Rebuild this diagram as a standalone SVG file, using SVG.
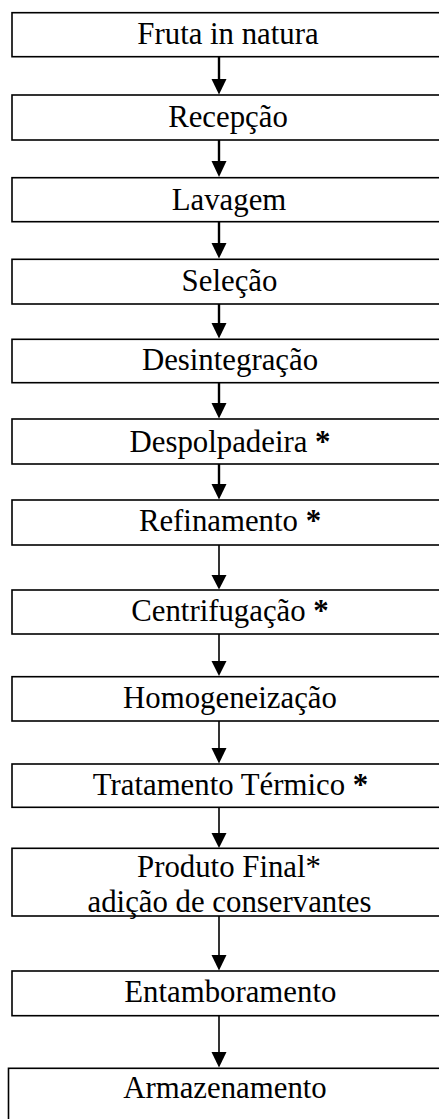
<svg xmlns="http://www.w3.org/2000/svg" width="439" height="1119" viewBox="0 0 439 1119">
<style>
.box{fill:#fff;stroke:#000;stroke-width:1.6}
.t{font-family:"Liberation Serif","Times New Roman",serif;font-size:30.8px;fill:#000;text-anchor:middle}
.b{font-weight:bold}
.c1{stroke:#000;stroke-width:2.4;fill:none}
.c2{stroke:#000;stroke-width:1.6;fill:none}
.h{fill:#000}
</style>
<rect width="439" height="1119" fill="#fff"/>
<g id="connectors">
<line class="c1" x1="219" y1="57" x2="219" y2="80"/><polygon class="h" points="211.5,79 226.5,79 219,94.5"/>
<line class="c1" x1="219" y1="140" x2="219" y2="162"/><polygon class="h" points="211.5,161 226.5,161 219,177"/>
<line class="c1" x1="219" y1="222" x2="219" y2="244"/><polygon class="h" points="211.5,243 226.5,243 219,258.5"/>
<line class="c1" x1="219" y1="304" x2="219" y2="324"/><polygon class="h" points="211.5,323 226.5,323 219,338.5"/>
<line class="c1" x1="219" y1="383" x2="219" y2="404"/><polygon class="h" points="211.5,403 226.5,403 219,418.5"/>
<line class="c1" x1="219" y1="464" x2="219" y2="485"/><polygon class="h" points="211.5,484 226.5,484 219,499.5"/>
<line class="c2" x1="219" y1="545" x2="219" y2="576"/><polygon class="h" points="211.5,575 226.5,575 219,589.5"/>
<line class="c2" x1="219" y1="634" x2="219" y2="662"/><polygon class="h" points="211.5,661 226.5,661 219,676"/>
<line class="c2" x1="219" y1="721" x2="219" y2="749"/><polygon class="h" points="211.5,748 226.5,748 219,763.5"/>
<line class="c2" x1="219" y1="807" x2="219" y2="834"/><polygon class="h" points="211.5,833 226.5,833 219,848"/>
<line class="c2" x1="219" y1="916" x2="219" y2="956"/><polygon class="h" points="211.5,955 226.5,955 219,970.5"/>
<line class="c2" x1="219" y1="1016" x2="219" y2="1053"/><polygon class="h" points="211.5,1052 226.5,1052 219,1067.5"/>
</g>
<g id="n1"><rect class="box" x="12" y="12.7" width="432" height="44"/><text class="t" x="228" y="44.4">Fruta in natura</text></g>
<g id="n2"><rect class="box" x="12" y="95" width="432" height="45"/><text class="t" x="228" y="126.7">Recepção</text></g>
<g id="n3"><rect class="box" x="12" y="177.7" width="432" height="44"/><text class="t" x="229" y="209.5">Lavagem</text></g>
<g id="n4"><rect class="box" x="12" y="259.3" width="432" height="44.7"/><text class="t" x="229.5" y="290.5">Seleção</text></g>
<g id="n5"><rect class="box" x="12" y="339.3" width="432" height="43.4"/><text class="t" x="230" y="369.5">Desintegração</text></g>
<g id="n6"><rect class="box" x="12" y="419" width="432" height="45"/><text class="t" x="230" y="451.5">Despolpadeira <tspan class="b">*</tspan></text></g>
<g id="n7"><rect class="box" x="12" y="500" width="432" height="45"/><text class="t" x="230" y="530.5">Refinamento <tspan class="b">*</tspan></text></g>
<g id="n8"><rect class="box" x="12" y="590" width="432" height="44"/><text class="t" x="230" y="620.5">Centrifugação <tspan class="b">*</tspan></text></g>
<g id="n9"><rect class="box" x="12" y="676.7" width="432" height="44.3"/><text class="t" x="230" y="708">Homogeneização</text></g>
<g id="n10"><rect class="box" x="12" y="764" width="432" height="43.3"/><text class="t" x="230.5" y="795">Tratamento Térmico <tspan class="b">*</tspan></text></g>
<g id="n11"><rect class="box" x="12" y="848.3" width="432" height="67.7"/><text class="t" x="229" y="876.7">Produto Final*</text><text class="t" x="229.5" y="911.5">adição de conservantes</text></g>
<g id="n12"><rect class="box" x="12" y="971" width="432" height="44.7"/><text class="t" x="230.3" y="1001.7">Entamboramento</text></g>
<g id="n13"><rect class="box" x="8.5" y="1068.3" width="440" height="60"/><text class="t" x="225" y="1098.3">Armazenamento</text></g>
</svg>
